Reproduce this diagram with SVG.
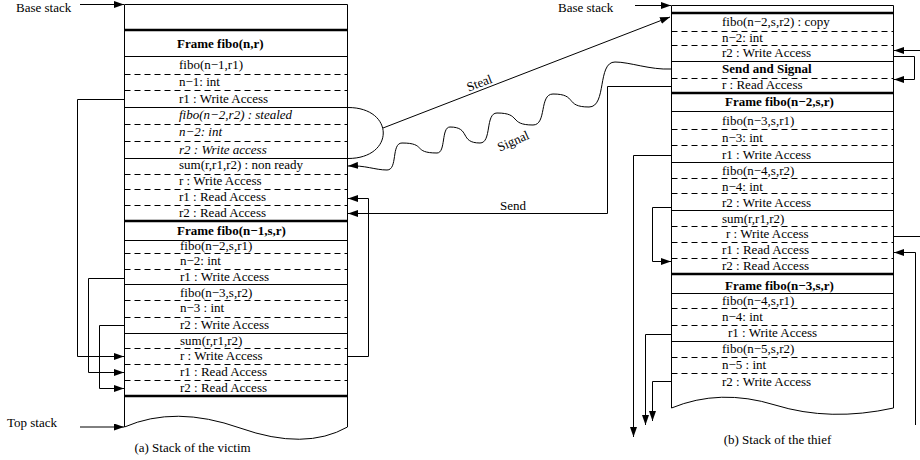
<svg xmlns="http://www.w3.org/2000/svg" width="920" height="460" viewBox="0 0 920 460">
<defs>
<style>
.t{font-family:"Liberation Serif","Times New Roman",serif;font-size:13px;fill:#000}
.b{font-weight:bold}
.i{font-style:italic}
.ln{stroke:#000;stroke-width:1;fill:none}
.d{stroke-dasharray:6 4}
.k{stroke-width:2.5}
.c{stroke:#000;stroke-width:1;fill:none}
.a{marker-end:url(#ah)}
</style>
<marker id="ah" markerWidth="10" markerHeight="7" refX="10" refY="3.5" orient="auto" markerUnits="userSpaceOnUse">
<path d="M0,0 L10,3.5 L0,7 z" fill="#000"/>
</marker>
</defs>
<rect width="920" height="460" fill="#fff"/>

<g id="victim">
<path class="ln" d="M124.5,4.5 H347.5 M124.5,4.5 V427 M347.5,4.5 V427"/>
<path class="ln" d="M124.5,427 Q175,405 240,428 T347.5,427"/>
<path class="ln k" d="M124.5,30 H347.5 M124.5,221 H347.5 M124.5,396 H347.5"/>
<path class="ln" d="M124.5,56.5 H347.5 M124.5,107.5 H347.5 M124.5,158.5 H347.5 M124.5,240.5 H347.5 M124.5,284.5 H347.5 M124.5,333.5 H347.5"/>
<path class="ln d" d="M124.5,74.5 H347.5 M124.5,90.5 H347.5 M124.5,124.5 H347.5 M124.5,141.5 H347.5 M124.5,174.5 H347.5 M124.5,189.5 H347.5 M124.5,205.5 H347.5 M124.5,253.5 H347.5 M124.5,269.5 H347.5 M124.5,300.5 H347.5 M124.5,317.5 H347.5 M124.5,348.5 H347.5 M124.5,364.5 H347.5 M124.5,380.5 H347.5"/>
<text class="t b" x="177" y="48">Frame fibo(n,r)</text>
<text class="t" x="179" y="69">fibo(n−1,r1)</text>
<text class="t" x="179" y="86">n−1: int</text>
<text class="t" x="179" y="103">r1 : Write Access</text>
<text class="t i" x="179" y="119">fibo(n−2,r2) : stealed</text>
<text class="t i" x="179" y="136">n−2: int</text>
<text class="t i" x="179" y="154">r2 : Write access</text>
<text class="t" x="179" y="169">sum(r,r1,r2) : non ready</text>
<text class="t" x="179" y="185">r : Write Access</text>
<text class="t" x="179" y="201">r1 : Read Access</text>
<text class="t" x="179" y="217">r2 : Read Access</text>
<text class="t b" x="177" y="235">Frame fibo(n−1,s,r)</text>
<text class="t" x="180" y="250">fibo(n−2,s,r1)</text>
<text class="t" x="180" y="265">n−2: int</text>
<text class="t" x="180" y="281">r1 : Write Access</text>
<text class="t" x="180" y="297">fibo(n−3,s,r2)</text>
<text class="t" x="180" y="312">n−3 : int</text>
<text class="t" x="180" y="329">r2 : Write Access</text>
<text class="t" x="180" y="345">sum(r,r1,r2)</text>
<text class="t" x="180" y="360">r : Write Access</text>
<text class="t" x="180" y="376">r1 : Read Access</text>
<text class="t" x="180" y="392">r2 : Read Access</text>
</g>

<g id="thief">
<path class="ln" d="M671.5,5.5 H893.5 M671.5,5.5 V408 M893.5,5.5 V408"/>
<path class="ln" d="M671.5,408 Q720,388 775,405 T893.5,408"/>
<path class="ln k" d="M671.5,13 H893.5 M671.5,93 H893.5 M671.5,274 H893.5"/>
<path class="ln" d="M671.5,61.5 H893.5 M671.5,111.5 H893.5 M671.5,162.5 H893.5 M671.5,210.5 H893.5 M671.5,293.5 H893.5 M671.5,341.5 H893.5"/>
<path class="ln d" d="M671.5,31.5 H893.5 M671.5,45.5 H893.5 M671.5,78.5 H893.5 M671.5,129.5 H893.5 M671.5,145.5 H893.5 M671.5,178.5 H893.5 M671.5,193.5 H893.5 M671.5,226.5 H893.5 M671.5,242.5 H893.5 M671.5,258.5 H893.5 M671.5,308.5 H893.5 M671.5,325.5 H893.5 M671.5,357.5 H893.5 M671.5,373.5 H893.5"/>
<text class="t" x="722" y="26">fibo(n−2,s,r2) : copy</text>
<text class="t" x="722" y="42">n−2: int</text>
<text class="t" x="722" y="57">r2 : Write Access</text>
<text class="t b" x="722" y="73">Send and Signal</text>
<text class="t" x="722" y="89">r : Read Access</text>
<text class="t b" x="725" y="106">Frame fibo(n−2,s,r)</text>
<text class="t" x="722" y="125">fibo(n−3,s,r1)</text>
<text class="t" x="722" y="142">n−3: int</text>
<text class="t" x="722" y="159">r1 : Write Access</text>
<text class="t" x="722" y="175">fibo(n−4,s,r2)</text>
<text class="t" x="722" y="191">n−4: int</text>
<text class="t" x="722" y="207">r2 : Write Access</text>
<text class="t" x="722" y="223">sum(r,r1,r2)</text>
<text class="t" x="726" y="238">r : Write Access</text>
<text class="t" x="722" y="254">r1 : Read Access</text>
<text class="t" x="722" y="270">r2 : Read Access</text>
<text class="t b" x="725" y="290">Frame fibo(n−3,s,r)</text>
<text class="t" x="722" y="305">fibo(n−4,s,r1)</text>
<text class="t" x="722" y="321">n−4: int</text>
<text class="t" x="728" y="337">r1 : Write Access</text>
<text class="t" x="722" y="353">fibo(n−5,s,r2)</text>
<text class="t" x="722" y="369">n−5 : int</text>
<text class="t" x="722" y="386">r2 : Write Access</text>
</g>

<g id="labels">
<text class="t" x="16" y="12">Base stack</text>
<text class="t" x="7" y="427">Top stack</text>
<text class="t" x="558" y="12">Base stack</text>
<text class="t" x="192.5" y="452" text-anchor="middle">(a) Stack of the victim</text>
<text class="t" x="777.5" y="444" text-anchor="middle">(b) Stack of the thief</text>
</g>

<g id="connectors">
<path class="c a" d="M80,4.5 H124"/>
<path class="c a" d="M80,427 H124"/>
<path class="c a" d="M635,5.5 H671"/>
<path class="c a" d="M124,99.5 H77.5 V356.5 H124"/>
<path class="c a" d="M124,278.5 H88.5 V372.5 H124"/>
<path class="c a" d="M124,325.5 H99.5 V388.5 H124"/>
<path class="c a" d="M348,356.5 H368.5 V198.5 H348"/>
<path class="c a" d="M671,86.5 H607.5 V213.5 H348"/>
<path class="c" d="M348,107.5 C395,107.5 395,158.5 348,158.5"/>
<path class="c a" d="M383,128 L670,17"/>
<path class="c a" d="M671,69 C650,70 630,62 615,62 C597,62 607,107 589,107 C564,107 578,94 553,94 C539,94 547,125 533,125 C508,125 522,113 497,113 C485,113 492,143 480,143 C459,143 471,127 450,127 C441,127 446,153 437,153 C412,153 427,143 402,143 C391,143 398,170 387,170 C375,170 365,165 348,166"/>
<path class="c a" d="M920,50.5 H894"/>
<path class="c a" d="M894,56.5 H914.5 V79.5 H894"/>
<path class="c" d="M894,236.5 H920"/>
<path class="c a" d="M915.5,425 V252.5 H894"/>
<path class="c a" d="M671,155.5 H633.5 V437"/>
<path class="c a" d="M671,207.5 H652.5 V261.5 H671"/>
<path class="c a" d="M671,334.5 H645.5 V425"/>
<path class="c a" d="M671,381.5 H652.5 V421"/>
<text class="t" x="481" y="87" text-anchor="middle" transform="rotate(-21 481 87)">Steal</text>
<text class="t" x="515" y="145" text-anchor="middle" transform="rotate(-24 515 145)">Signal</text>
<text class="t" x="513" y="210" text-anchor="middle">Send</text>
</g>
</svg>
